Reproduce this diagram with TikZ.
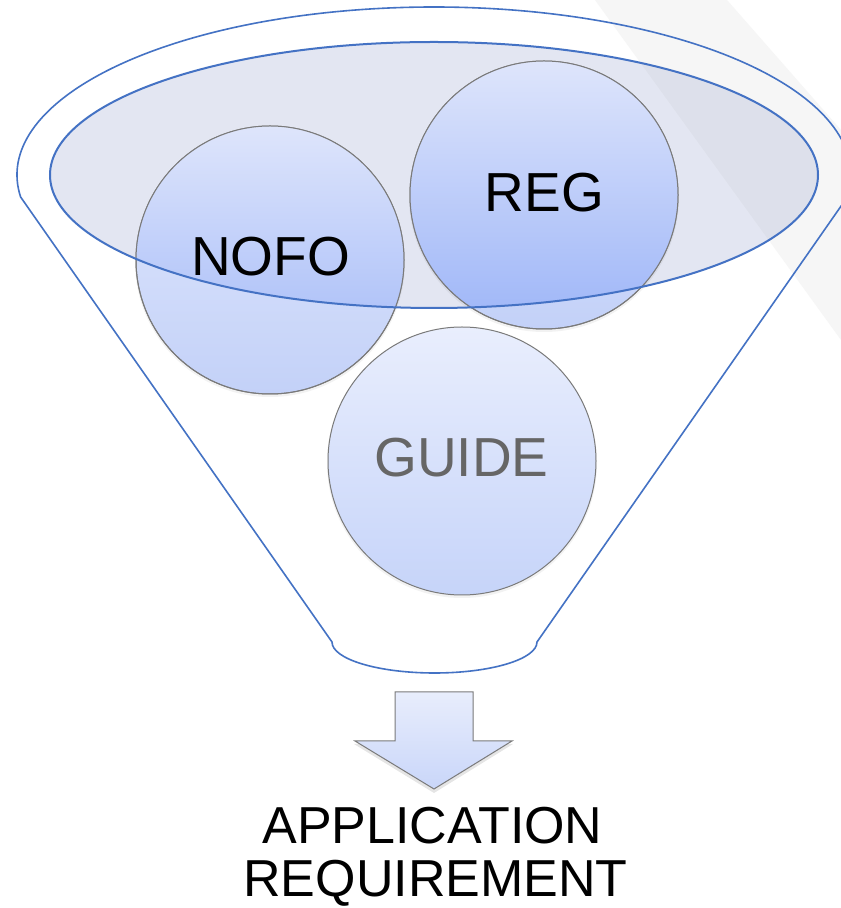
\documentclass[tikz,border=0pt]{standalone}
\usepackage{fontspec}
\setmainfont{Liberation Sans}
\definecolor{fblue}{HTML}{4472C4}
\definecolor{bandc}{HTML}{F6F6F6}
\definecolor{ellc}{HTML}{A5AFD4}
\definecolor{cOT}{HTML}{E2E9FD}
\definecolor{cOB}{HTML}{C3D1F8}
\definecolor{cIT}{HTML}{DEE5FB}
\definecolor{cIB}{HTML}{9DB5F8}
\definecolor{gT}{HTML}{E9EEFD}
\definecolor{gB}{HTML}{C6D4F9}
\definecolor{aT}{HTML}{E8EDFC}
\definecolor{aB}{HTML}{C9D6F9}
\definecolor{cline}{HTML}{7A7A7A}
\definecolor{gtext}{HTML}{666666}
\tikzset{
  circnode/.style={circle, minimum size=268pt, inner sep=0pt, draw=cline, line width=1pt},
  circline/.style={draw=cline, line width=1pt},
  funline/.style={draw=fblue, line width=1.6pt},
  lab/.style={inner sep=0pt, font=\fontsize{55}{60}\selectfont},
  bottomtext/.style={inner sep=0pt, anchor=base, font=\fontsize{52}{56}\selectfont},
}
\begin{document}
\begin{tikzpicture}[x=1pt,y=1pt]
\useasboundingbox (0,0) rectangle (841,908);
\fill[white] (0,0) rectangle (841,908);
% background band
\fill[bandc] (595,908) -- (727,908) -- (841,778) -- (841,568) -- cycle;
% inner ellipse fill
\fill[ellc, fill opacity=0.3] (434,733) ellipse [x radius=384, y radius=133];
% circle shadows
\fill[black, opacity=0.05] (270,646) circle (135);
\fill[black, opacity=0.05] (544,711) circle (135);
\fill[black, opacity=0.05] (462,445) circle (135);
% circles
\node[circnode, top color=cOT, bottom color=cOB] (nofo) at (270,648) {};
\node[circnode, top color=cOT, bottom color=cOB] (reg) at (544,713) {};
\node[circnode, top color=gT, bottom color=gB] (guide) at (462,447) {};
\begin{scope}
  \clip (434,733) ellipse [x radius=384, y radius=133];
  \shade[top color=cIT, bottom color=cIB] (nofo.center) circle (134);
  \shade[top color=cIT, bottom color=cIB] (reg.center) circle (134);
\end{scope}
\draw[circline] (nofo.center) circle (134);
\draw[circline] (reg.center) circle (134);
% ellipse outline and funnel
\draw[draw=fblue, line width=2pt] (434,733) ellipse [x radius=384, y radius=133];
\draw[funline] (434,733) +(187.52:417 and 168)
  arc [start angle=187.52, end angle=-7.52, x radius=417, y radius=168]
  -- (537,266)
  arc [start angle=0, end angle=-180, x radius=102.5, y radius=31]
  -- cycle;
% labels
\node[lab] (nofot) at (270.5,651) {NOFO};
\node[lab] (regt) at (544.5,715.5) {REG};
\node[lab, text=gtext] (guidet) at (461.5,450) {GUIDE};
% arrow
\fill[black, opacity=0.10] (395,213) -- (473,213) -- (473,164) -- (513,164) -- (434,115) -- (354,164) -- (395,164) -- cycle;
\draw[draw=cline, line width=1pt, top color=aT, bottom color=aB]
  (395,216) -- (473,216) -- (473,167) -- (512,167) -- (434,119) -- (355,167) -- (395,167) -- cycle;
% text
\node[bottomtext] (t1) at (432.5,64) {APPLICATION};
\node[bottomtext] (t2) at (435.5,11) {REQUIREMENT};
\end{tikzpicture}
\end{document}
